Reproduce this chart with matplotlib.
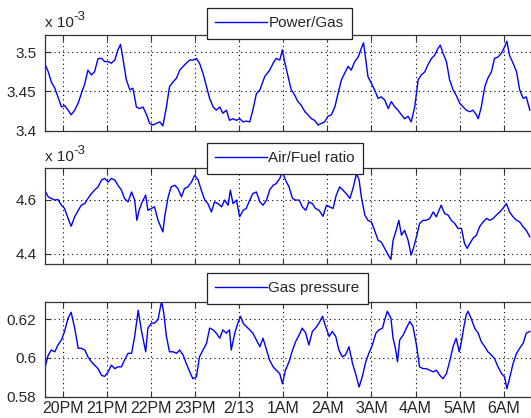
import matplotlib
matplotlib.use("Agg")
import matplotlib.pyplot as plt

plt.rcParams['font.family'] = ['Liberation Sans', 'DejaVu Sans']

# time in hours (24 = midnight 2/13)
xticks = [20, 21, 22, 23, 24, 25, 26, 27, 28, 29, 30]
xticklabels = ['20PM', '21PM', '22PM', '23PM', '2/13', '1AM', '2AM', '3AM', '4AM', '5AM', '6AM']

# Power/Gas (x 10^-3)
t_pg = [19.59,19.67,19.74,19.82,19.89,19.97,20.04,20.12,20.19,20.27,20.35,20.42,20.50,20.57,20.65,20.72,
        20.80,20.88,20.95,21.03,21.10,21.18,21.25,21.31,21.37,21.44,21.52,21.59,21.67,21.74,21.82,21.90,
        21.97,22.05,22.12,22.20,22.27,22.35,22.42,22.50,22.58,22.65,22.73,22.80,22.88,22.95,23.03,23.10,
        23.18,23.26,23.33,23.41,23.48,23.56,23.63,23.71,23.78,23.86,23.94,24.01,24.09,24.16,24.24,24.31,
        24.39,24.47,24.58,24.69,24.77,24.84,24.92,24.98,25.03,25.11,25.18,25.26,25.33,25.41,25.49,25.56,
        25.64,25.71,25.79,25.86,25.94,26.01,26.09,26.17,26.24,26.32,26.39,26.47,26.54,26.62,26.70,26.77,
        26.82,26.87,26.92,27.00,27.07,27.15,27.22,27.30,27.38,27.45,27.53,27.60,27.68,27.75,27.83,27.90,
        27.98,28.06,28.13,28.21,28.28,28.36,28.43,28.51,28.56,28.62,28.70,28.77,28.85,28.92,29.00,29.08,
        29.15,29.23,29.30,29.38,29.42,29.49,29.57,29.64,29.72,29.79,29.87,29.95,30.02,30.07,30.13,30.21,
        30.29,30.36,30.44,30.51,30.59]
power_gas = [3.486,3.475,3.462,3.454,3.443,3.430,3.432,3.426,3.420,3.426,3.435,3.447,3.460,3.477,3.471,3.475,
             3.492,3.492,3.488,3.488,3.486,3.490,3.503,3.510,3.490,3.465,3.452,3.454,3.430,3.428,3.430,3.420,
             3.409,3.407,3.409,3.411,3.406,3.430,3.456,3.462,3.467,3.477,3.482,3.486,3.490,3.490,3.492,3.486,
             3.473,3.456,3.441,3.430,3.426,3.430,3.422,3.426,3.413,3.415,3.413,3.415,3.411,3.412,3.411,3.426,
             3.447,3.452,3.469,3.477,3.486,3.492,3.490,3.503,3.488,3.469,3.452,3.445,3.437,3.432,3.424,3.420,
             3.415,3.413,3.407,3.409,3.411,3.418,3.420,3.430,3.447,3.465,3.473,3.482,3.477,3.488,3.494,3.505,
             3.512,3.490,3.469,3.460,3.452,3.441,3.443,3.439,3.428,3.437,3.430,3.426,3.420,3.415,3.418,3.411,
             3.430,3.465,3.471,3.475,3.484,3.492,3.496,3.505,3.509,3.499,3.488,3.465,3.452,3.445,3.435,3.430,
             3.426,3.424,3.426,3.420,3.415,3.430,3.456,3.467,3.475,3.492,3.494,3.499,3.507,3.514,3.496,3.486,
             3.475,3.452,3.441,3.443,3.426]

# Air/Fuel ratio (x 10^-3)
t_af = [19.59,19.67,19.74,19.82,19.89,19.97,20.04,20.12,20.19,20.27,20.35,20.42,20.50,20.57,20.65,20.72,
        20.80,20.88,20.95,21.03,21.10,21.18,21.25,21.33,21.40,21.48,21.56,21.63,21.68,21.73,21.80,21.88,
        21.93,22.01,22.08,22.16,22.22,22.27,22.31,22.39,22.46,22.54,22.61,22.69,22.76,22.84,22.92,22.99,
        23.07,23.14,23.22,23.29,23.37,23.44,23.52,23.60,23.67,23.75,23.80,23.86,23.94,24.01,24.09,24.16,
        24.24,24.31,24.39,24.47,24.54,24.62,24.69,24.77,24.84,24.92,24.98,25.05,25.13,25.21,25.28,25.36,
        25.43,25.51,25.58,25.66,25.73,25.81,25.90,25.98,26.05,26.13,26.20,26.28,26.35,26.43,26.51,26.58,
        26.66,26.72,26.77,26.85,26.92,27.00,27.07,27.15,27.22,27.30,27.38,27.44,27.49,27.56,27.62,27.68,
        27.75,27.83,27.90,27.96,28.02,28.09,28.17,28.24,28.32,28.40,28.47,28.55,28.58,28.66,28.74,28.81,
        28.89,28.96,29.04,29.11,29.17,29.23,29.30,29.38,29.45,29.53,29.61,29.68,29.76,29.83,29.91,29.98,
        30.06,30.13,30.21,30.29,30.36,30.44,30.51,30.59]
air_fuel = [4.635,4.610,4.604,4.598,4.600,4.579,4.567,4.530,4.501,4.536,4.560,4.579,4.585,4.604,4.622,4.635,
            4.647,4.672,4.678,4.665,4.678,4.672,4.653,4.635,4.604,4.591,4.628,4.598,4.523,4.560,4.591,4.616,
            4.560,4.567,4.573,4.523,4.499,4.480,4.536,4.610,4.647,4.653,4.641,4.610,4.641,4.647,4.665,4.690,
            4.672,4.635,4.598,4.585,4.554,4.591,4.585,4.573,4.598,4.579,4.635,4.585,4.598,4.536,4.560,4.567,
            4.598,4.622,4.628,4.591,4.579,4.598,4.635,4.653,4.659,4.678,4.702,4.672,4.647,4.604,4.598,4.598,
            4.573,4.560,4.591,4.585,4.567,4.560,4.538,4.579,4.573,4.567,4.616,4.647,4.635,4.622,4.604,4.641,
            4.696,4.672,4.610,4.542,4.523,4.517,4.486,4.449,4.443,4.419,4.394,4.378,4.449,4.486,4.523,4.468,
            4.486,4.449,4.394,4.425,4.462,4.511,4.523,4.523,4.530,4.554,4.536,4.567,4.579,4.548,4.542,4.523,
            4.511,4.493,4.493,4.437,4.419,4.437,4.456,4.468,4.499,4.517,4.530,4.523,4.530,4.542,4.554,4.567,
            4.585,4.554,4.536,4.523,4.517,4.499,4.486,4.462]

# Gas pressure
t_gp = [19.59,19.67,19.74,19.82,19.89,19.97,20.04,20.12,20.19,20.27,20.35,20.42,20.50,20.57,20.65,20.72,
        20.80,20.88,20.95,21.03,21.10,21.18,21.25,21.33,21.40,21.48,21.56,21.63,21.71,21.78,21.88,21.93,
        22.01,22.08,22.16,22.24,22.29,22.35,22.42,22.50,22.58,22.65,22.73,22.80,22.88,22.95,23.03,23.10,
        23.18,23.26,23.33,23.41,23.48,23.56,23.63,23.71,23.78,23.82,23.90,23.97,24.03,24.09,24.16,24.24,
        24.31,24.39,24.47,24.54,24.62,24.69,24.77,24.84,24.92,24.98,25.05,25.13,25.21,25.28,25.36,25.43,
        25.51,25.58,25.66,25.73,25.81,25.89,25.96,26.04,26.11,26.19,26.26,26.34,26.41,26.49,26.57,26.64,
        26.72,26.79,26.87,26.94,27.02,27.10,27.17,27.25,27.30,27.36,27.44,27.49,27.55,27.59,27.64,27.72,
        27.79,27.87,27.94,28.02,28.09,28.17,28.24,28.32,28.40,28.47,28.55,28.62,28.70,28.77,28.85,28.92,
        28.99,29.04,29.09,29.15,29.19,29.27,29.34,29.42,29.49,29.57,29.64,29.72,29.79,29.87,29.95,30.02,
        30.07,30.13,30.21,30.29,30.36,30.44,30.51,30.59]
gas_pressure = [0.5944,0.6014,0.6040,0.6031,0.6066,0.6092,0.6136,0.6205,0.6235,0.6153,0.6049,0.6049,0.6040,0.6005,0.5979,0.5962,
                0.5944,0.5909,0.5904,0.5927,0.5962,0.5944,0.5953,0.5953,0.5988,0.6023,0.6023,0.6110,0.6245,0.6144,0.6031,0.6153,
                0.6179,0.6179,0.6197,0.6292,0.6231,0.6110,0.6031,0.6031,0.6023,0.6040,0.6014,0.5970,0.5927,0.5892,0.5901,0.6005,
                0.6040,0.6075,0.6153,0.6144,0.6127,0.6101,0.6144,0.6127,0.6144,0.6040,0.6127,0.6179,0.6214,0.6179,0.6162,0.6144,
                0.6127,0.6092,0.6057,0.6101,0.6040,0.5988,0.5953,0.5936,0.5918,0.5866,0.5936,0.5979,0.6040,0.6083,0.6118,0.6153,
                0.6127,0.6066,0.6136,0.6153,0.6179,0.6214,0.6162,0.6110,0.6136,0.6110,0.6040,0.6005,0.6014,0.6057,0.5970,0.5918,
                0.5849,0.5901,0.5979,0.6023,0.6066,0.6127,0.6144,0.6153,0.6197,0.6240,0.6205,0.6101,0.6040,0.5979,0.6092,0.6118,
                0.6153,0.6188,0.6162,0.6066,0.5953,0.5944,0.5944,0.5936,0.5927,0.5936,0.5909,0.5892,0.5918,0.5979,0.6057,0.6101,
                0.6031,0.6083,0.6153,0.6223,0.6240,0.6197,0.6153,0.6127,0.6083,0.6057,0.6031,0.6014,0.5996,0.5953,0.5918,0.5901,
                0.5840,0.5892,0.5970,0.6023,0.6049,0.6075,0.6127,0.6136]

panels = [
    dict(t=t_pg, y=power_gas, label='Power/Gas', ylim=(3.4, 3.522), yticks=[3.4, 3.45, 3.5],
         yticklabels=['3.4', '3.45', '3.5'], exp=True, rect_px=(35, 130.5), leg_top=8),
    dict(t=t_af, y=air_fuel, label='Air/Fuel ratio', ylim=(4.363, 4.715), yticks=[4.4, 4.6],
         yticklabels=['4.4', '4.6'], exp=True, rect_px=(168.5, 263.5), leg_top=143),
    dict(t=t_gp, y=gas_pressure, label='Gas pressure', ylim=(0.58, 0.6288), yticks=[0.58, 0.6, 0.62],
         yticklabels=['0.58', '0.6', '0.62'], exp=False, rect_px=(302, 396.5), leg_top=273),
]

W, H = 531, 418
fig = plt.figure(figsize=(W / 100, H / 100), dpi=100)
left_px, right_px = 44.7, 533
txtc = '#262626'
for i, p in enumerate(panels):
    top, bot = p['rect_px']
    ax = fig.add_axes([left_px / W, 1 - bot / H, (right_px - left_px) / W, (bot - top) / H])
    ax.plot(p['t'], p['y'], color='#0000ff', lw=1.0, label=p['label'])
    ax.set_xlim(19.59, 19.59 + (right_px - left_px) / 44.1)
    ax.set_ylim(*p['ylim'])
    ax.set_xticks(xticks)
    ax.set_yticks(p['yticks'])
    ax.set_yticklabels(p['yticklabels'])
    if i == 2:
        ax.set_xticklabels(xticklabels)
    else:
        ax.set_xticklabels([])
    ax.tick_params(direction='in', length=4, width=0.8, color='#333333', labelsize=11,
                   labelcolor=txtc, top=True, right=False)
    ax.tick_params(axis='x', pad=3, labelsize=11.5)
    ax.tick_params(axis='y', pad=6)
    ax.grid(True, color='black', linestyle=(0, (1, 3)), linewidth=0.8)
    for s in ax.spines.values():
        s.set_color('#333333')
        s.set_linewidth(0.9)
    if p['exp']:
        ax.annotate('x 10', xy=(0, 1), xycoords='axes fraction', xytext=(0, 3.5),
                    textcoords='offset points', ha='left', va='bottom', fontsize=11, color=txtc)
        ax.annotate('-3', xy=(0, 1), xycoords='axes fraction', xytext=(20.3, 8.5),
                    textcoords='offset points', ha='left', va='bottom', fontsize=9.5, color=txtc)
    leg = ax.legend(loc='upper left', bbox_to_anchor=(206.5 / W, 1 - p['leg_top'] / H),
                    bbox_transform=fig.transFigure, fontsize=11, frameon=True, fancybox=False,
                    framealpha=1, edgecolor='#222222', handlelength=3.4, handletextpad=0.1,
                    borderpad=0.55, borderaxespad=0)
    leg.get_frame().set_linewidth(0.9)
    for txt in leg.get_texts():
        txt.set_color(txtc)
    leg.set_zorder(10)

fig.savefig('out.png', dpi=100)
